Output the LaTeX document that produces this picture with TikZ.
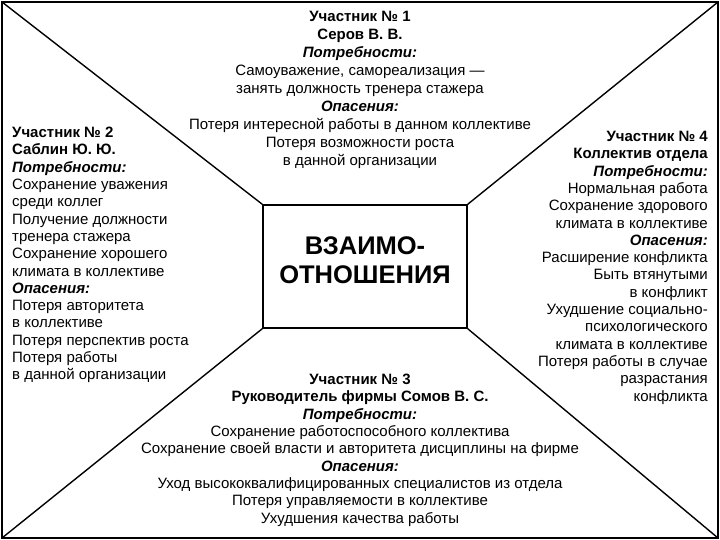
\documentclass[tikz,border=0pt]{standalone}
\usepackage{fontspec}
\setmainfont{Liberation Sans}
\newcommand{\hd}[1]{\textbf{\textit{#1}}}
\begin{document}
\begin{tikzpicture}[x=1pt,y=-1pt,
  txt/.style={inner sep=0pt, font=\fontsize{15}{17.3}\selectfont},
  txttop/.style={inner sep=0pt, font=\fontsize{15}{18}\selectfont},
  diag/.style={line width=1.4pt},
  frame/.style={line width=2.8pt},
  centerbox/.style={draw, line width=1.5pt, fill=white, minimum width=204pt, minimum height=123pt, inner sep=0pt},
  titletext/.style={inner sep=0pt, align=center, font=\fontsize{25.5}{29}\selectfont\bfseries}]
\useasboundingbox (0,0) rectangle (720,540);
\coordinate (tl) at (2,2);
\coordinate (tr) at (718,2);
\coordinate (br) at (718,538);
\coordinate (bl) at (2,538);
\draw[frame] (tl) rectangle (br);
\node[centerbox] (box) at (365,266.5) {};
\node[titletext] (title) at (365,260) {ВЗАИМО-\\ОТНОШЕНИЯ};
\draw[diag] (tl) -- (box.north west);
\draw[diag] (tr) -- (box.north east);
\draw[diag] (br) -- (box.south east);
\draw[diag] (bl) -- (box.south west);

\node[txttop, align=center, anchor=north] (p1) at (360,11) {%
\textbf{Участник № 1}\\
\textbf{Серов В. В.}\\
\hd{Потребности:}\\
Самоуважение, самореализация —\\
занять должность тренера стажера\\
\hd{Опасения:}\\
Потеря интересной работы в данном коллективе\\
Потеря возможности роста\\
в данной организации};

\node[txt, align=left, anchor=north west] (p2) at (12,127) {%
\textbf{Участник № 2}\\
\textbf{Саблин Ю. Ю.}\\
\hd{Потребности:}\\
Сохранение уважения\\
среди коллег\\
Получение должности\\
тренера стажера\\
Сохранение хорошего\\
климата в коллективе\\
\hd{Опасения:}\\
Потеря авторитета\\
в коллективе\\
Потеря перспектив роста\\
Потеря работы\\
в данной организации};

\node[txt, align=right, anchor=north east] (p4) at (708,131) {%
\textbf{Участник № 4}\\
\textbf{Коллектив отдела}\\
\hd{Потребности:}\\
Нормальная работа\\
Сохранение здорового\\
климата в коллективе\\
\hd{Опасения:}\\
Расширение конфликта\\
Быть втянутыми\\
в конфликт\\
Ухудшение социально-\\
психологического\\
климата в коллективе\\
Потеря работы в случае\\
разрастания\\
конфликта};

\node[txt, align=center, anchor=north] (p3) at (360,374) {%
\textbf{Участник № 3}\\
\textbf{Руководитель фирмы Сомов В. С.}\\
\hd{Потребности:}\\
Сохранение работоспособного коллектива\\
Сохранение своей власти и авторитета дисциплины на фирме\\
\hd{Опасения:}\\
Уход высококвалифицированных специалистов из отдела\\
Потеря управляемости в коллективе\\
Ухудшения качества работы};
\end{tikzpicture}
\end{document}
